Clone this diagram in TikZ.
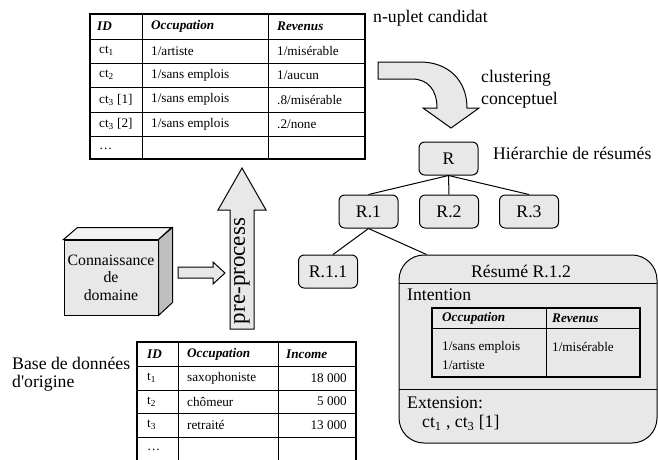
\documentclass[tikz,border=0pt]{standalone}
\usepackage{fontspec}
\setmainfont{Liberation Serif}
\usetikzlibrary{positioning}
\definecolor{boxgray}{HTML}{E8E8E8}
\definecolor{topgray}{HTML}{F2F2F2}
\definecolor{sidegray}{HTML}{BFBFBF}
\tikzset{
  % free text next to the shapes
  caption/.style = {
    anchor = west,
    inner sep = 0,
    font = \fontsize{17.7}{17.5}\selectfont
  },
  % table cells
  cell/.style = {
    anchor = west,
    inner sep = 0,
    font = \fontsize{13.2}{15}\selectfont
  },
  hcell/.style = {
    cell,
    font = \fontsize{13.2}{15}\selectfont\bfseries\itshape
  },
  % summary in the hierarchy
  summary/.style = {
    draw = black,
    fill = boxgray,
    line width = 1pt,
    rounded corners = 2mm,
    minimum width = 59pt,
    minimum height = 33pt,
    inner sep = 0,
    font = \fontsize{17.7}{20}\selectfont
  },
  tree edge/.style = {
    draw = black,
    line width = 1pt
  },
  grid line/.style = {
    line width = 1pt
  },
  frame line/.style = {
    line width = 2pt
  },
  block arrow/.style = {
    draw = black,
    fill = boxgray,
    line width = 1pt,
    line join = miter
  }
}

\begin{document}
\begin{tikzpicture}[x=1pt, y=-1pt]
    \useasboundingbox (0,0) rectangle (658,459);

    % candidate tuples
    \draw[grid line] (142,14) -- (142,159) (268,14) -- (268,159);
    \draw[grid line] (90,39) -- (365,39) (90,63) -- (365,63)
      (90,87) -- (365,87) (90,112) -- (365,112) (90,136) -- (365,136);
    \draw[frame line] (90,14) rectangle (365,159);
    \node[hcell] (ct-id) at (97,26.5) {ID};
    \node[hcell] (ct-occ) at (151,26.5) {Occupation};
    \node[hcell] (ct-rev) at (277,26.5) {Revenus};
    \node[cell] (ct1) at (99,51) {ct\textsubscript{1}};
    \node[cell] (ct1-occ) at (151,51) {1/artiste};
    \node[cell] (ct1-rev) at (277,51) {1/misérable};
    \node[cell] (ct2) at (99,75) {ct\textsubscript{2}};
    \node[cell] (ct2-occ) at (151,75) {1/sans emplois};
    \node[cell] (ct2-rev) at (277,75) {1/aucun};
    \node[cell] (ct31) at (99,99.5) {ct\textsubscript{3} [1]};
    \node[cell] (ct31-occ) at (151,99.5) {1/sans emplois};
    \node[cell] (ct31-rev) at (277,99.5) {.8/misérable};
    \node[cell] (ct32) at (99,124) {ct\textsubscript{3} [2]};
    \node[cell] (ct32-occ) at (151,124) {1/sans emplois};
    \node[cell] (ct32-rev) at (277,124) {.2/none};
    \node[cell] (ct-more) at (99,149) {\ldots};
    \node[caption] (candidate) at (373,18) {n-uplet candidat};

    % clustering arrow
    \draw[block arrow] (378,62) -- (420,62)
      .. controls (448,62) and (467,80) .. (467,108)
      -- (479,108) -- (451,128) -- (423,108) -- (437,108)
      .. controls (437,90) and (428,79) .. (412,79)
      -- (378,79) -- cycle;
    \node[caption] (clustering) at (481,78) {clustering};
    \node[caption] (conceptual) at (481,100) {conceptuel};

    % hierarchy
    \node[summary] (R) at (448.5,158.5) {R};
    \node[caption] (hierarchy) at (493,153) {Hiérarchie de résumés};
    \node[summary] (R1) at (368.5,211.5) {R.1};
    \node[summary] (R2) at (449,211.5) {R.2};
    \node[summary] (R3) at (529,211.5) {R.3};
    \node[summary] (R11) at (328,271.5) {R.1.1};
    \node[summary, rounded corners = 25pt, minimum width = 258pt,
      minimum height = 188pt] (R12) at (528,349) {};

    \draw[tree edge] (R.south) -- (R1.north);
    \draw[tree edge] (R.south) -- (R2.north);
    \draw[tree edge] (R.south) -- (R3.north);
    \draw[tree edge] (R1.south) -- ([xshift=5pt]R11.north);
    \draw[tree edge] (R1.south) -- ([xshift=28pt]R12.north west);

    % summary R.1.2
    \draw[grid line] (399,283) -- (657,283) (399,389) -- (657,389);
    \node[caption, anchor = center] (R12-title) at (521,271) {Résumé R.1.2};
    \node[caption] (intention) at (407,295) {Intention};
    \draw[grid line] (546,308) -- (546,377) (432,328) -- (640,328);
    \draw[frame line] (432,308) rectangle (640,377);
    \node[hcell] (int-occ) at (442,318) {Occupation};
    \node[hcell] (int-rev) at (552,318) {Revenus};
    \node[cell] (int-occ1) at (442,347) {1/sans emplois};
    \node[cell] (int-occ2) at (442,365) {1/artiste};
    \node[cell] (int-rev1) at (552,347) {1/misérable};
    \node[caption] (extension) at (407,403) {Extension:};
    \node[caption] (ext-list) at (422,423) {ct\textsubscript{1} , ct\textsubscript{3} [1]};

    % domain knowledge
    \node[draw = black, fill = boxgray, line width = 1pt, minimum width = 94pt,
      minimum height = 75pt, inner sep = 0, align = center,
      font = \fontsize{15.8}{17.5}\selectfont] (know) at (111,277.5)
      {Connaissance\\de\\domaine};
    \draw[block arrow, fill = topgray] (know.north west) -- ++(14,-12)
      -- ++(94,0) -- (know.north east) -- cycle;
    \draw[block arrow, fill = sidegray] (know.north east) -- ++(14,-12)
      -- ++(0,75) -- (know.south east) -- cycle;
    \draw[block arrow] (178,267) -- (213,267) -- (213,262) -- (225,273)
      -- (213,284) -- (213,278) -- (178,278) -- cycle;

    % pre-process
    \draw[block arrow] (230,329) -- (230,210) -- (218,210) -- (242,168)
      -- (266,210) -- (254,210) -- (254,329) -- cycle;
    \node[rotate = 90, inner sep = 0, font = \fontsize{23}{23}\selectfont]
      (preproc) at (242,271) {pre-process};

    % original database
    \node[caption] (base1) at (12,363) {Base de données};
    \node[caption] (base2) at (12,383) {d\textquotesingle origine};
    \draw[grid line] (178,342) -- (178,461) (278,342) -- (278,461);
    \draw[grid line] (137,366) -- (356,366) (137,390) -- (356,390)
      (137,413) -- (356,413) (137,437) -- (356,437);
    \draw[frame line] (137,461) -- (137,342) -- (356,342) -- (356,461);
    \node[hcell] (t-id) at (147,354) {ID};
    \node[hcell] (t-occ) at (187,354) {Occupation};
    \node[hcell] (t-inc) at (286,354) {Income};
    \node[cell] (t1) at (147,378) {t\textsubscript{1}};
    \node[cell] (t1-occ) at (187,378) {saxophoniste};
    \node[cell, anchor = east] (t1-inc) at (347,378) {18 000};
    \node[cell] (t2) at (147,401.5) {t\textsubscript{2}};
    \node[cell] (t2-occ) at (187,401.5) {chômeur};
    \node[cell, anchor = east] (t2-inc) at (347,401.5) {5 000};
    \node[cell] (t3) at (147,425) {t\textsubscript{3}};
    \node[cell] (t3-occ) at (187,425) {retraité};
    \node[cell, anchor = east] (t3-inc) at (347,425) {13 000};
    \node[cell] (t-more) at (147,450) {\ldots};
  \end{tikzpicture}
\end{document}
